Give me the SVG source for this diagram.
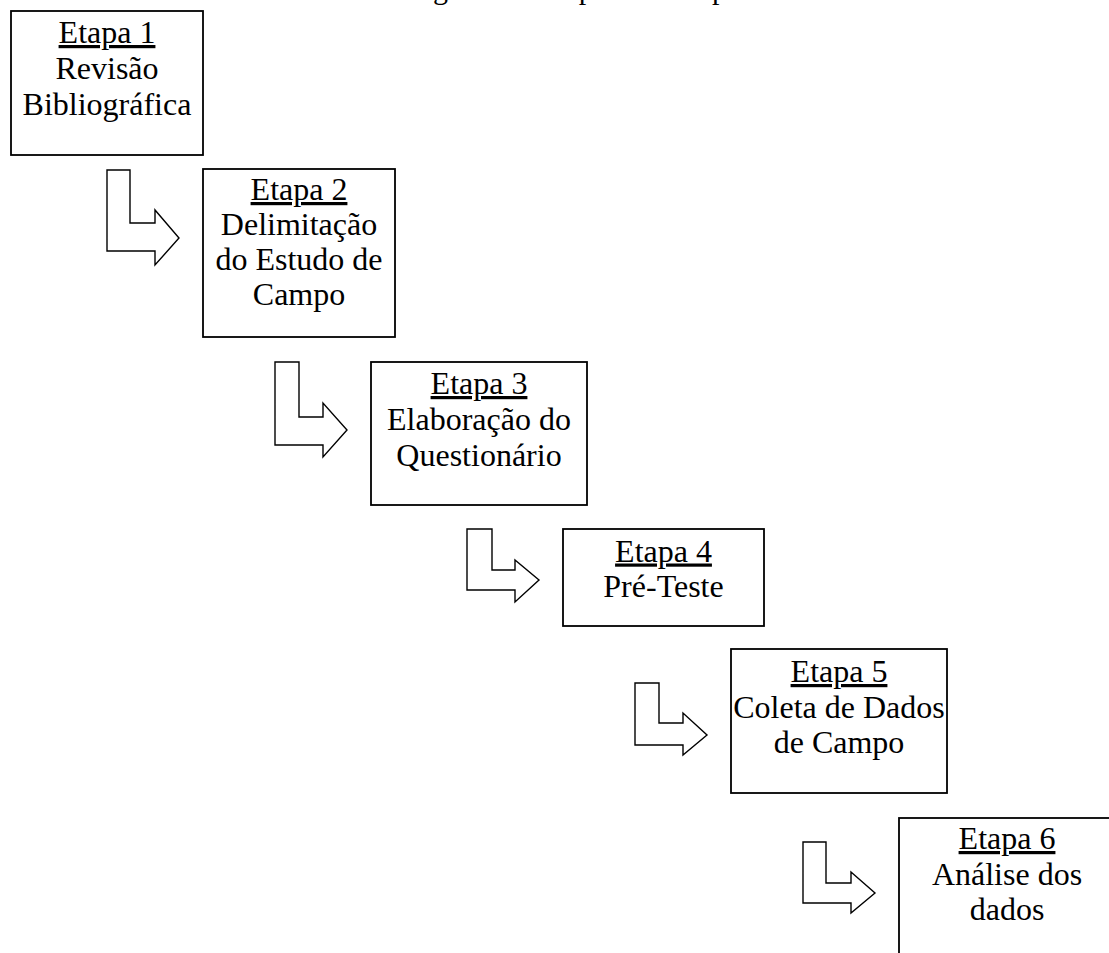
<svg xmlns="http://www.w3.org/2000/svg" width="1109" height="953" viewBox="0 0 1109 953">
<style>
  .box { fill: #ffffff; stroke: #000000; stroke-width: 1.8; }
  .arrow { fill: #ffffff; stroke: #000000; stroke-width: 1.4; stroke-linejoin: miter; }
  .t { font-family: "Liberation Serif", "Times New Roman", serif; font-size: 32px; fill: #000000; text-anchor: middle; }
  .u { text-decoration: underline; }
  .title { font-family: "Liberation Serif", "Times New Roman", serif; font-size: 30px; fill: #000000; }
</style>
<rect width="1109" height="953" fill="#ffffff"/>
<text class="title" x="408" y="-1.5">Figura 1 – Etapas de campo</text>
<g id="connectors">
  <polygon class="arrow" points="107,170 130,170 130,223 155,223 155,210 179,238 155,265 155,251 107,251"/>
  <polygon class="arrow" points="275,362 299,362 299,417 323,417 323,403 347,430 323,457 323,445 275,445"/>
  <polygon class="arrow" points="467,529 492,529 492,570 515,570 515,560 539,580 515,602 515,590 467,590"/>
  <polygon class="arrow" points="635,683 659,683 659,723 683,723 683,713 707,735 683,755 683,745 635,745"/>
  <polygon class="arrow" points="803,842 826,842 826,883 851,883 851,872 875,893 851,913 851,903 803,903"/>
</g>
<g id="etapa1">
  <rect class="box" x="11" y="11" width="192" height="144"/>
  <text class="t" x="107" y="43"><tspan class="u">Etapa 1</tspan></text>
  <text class="t" x="107" y="79">Revisão</text>
  <text class="t" x="107" y="115">Bibliográfica</text>
</g>
<g id="etapa2">
  <rect class="box" x="203" y="169" width="192" height="168"/>
  <text class="t" x="299" y="200"><tspan class="u">Etapa 2</tspan></text>
  <text class="t" x="299" y="235">Delimitação</text>
  <text class="t" x="299" y="270">do Estudo de</text>
  <text class="t" x="299" y="305">Campo</text>
</g>
<g id="etapa3">
  <rect class="box" x="371" y="362" width="216" height="143"/>
  <text class="t" x="479" y="394"><tspan class="u">Etapa 3</tspan></text>
  <text class="t" x="479" y="430">Elaboração do</text>
  <text class="t" x="479" y="466">Questionário</text>
</g>
<g id="etapa4">
  <rect class="box" x="563" y="529" width="201" height="97"/>
  <text class="t" x="663.5" y="561.5"><tspan class="u">Etapa 4</tspan></text>
  <text class="t" x="663.5" y="597">Pré-Teste</text>
</g>
<g id="etapa5">
  <rect class="box" x="731" y="649" width="216" height="144"/>
  <text class="t" x="839" y="682"><tspan class="u">Etapa 5</tspan></text>
  <text class="t" x="839" y="718">Coleta de Dados</text>
  <text class="t" x="839" y="753">de Campo</text>
</g>
<g id="etapa6">
  <rect class="box" x="899" y="818" width="216" height="160"/>
  <text class="t" x="1007" y="849"><tspan class="u">Etapa 6</tspan></text>
  <text class="t" x="1007" y="885">Análise dos</text>
  <text class="t" x="1007" y="920">dados</text>
</g>
</svg>
